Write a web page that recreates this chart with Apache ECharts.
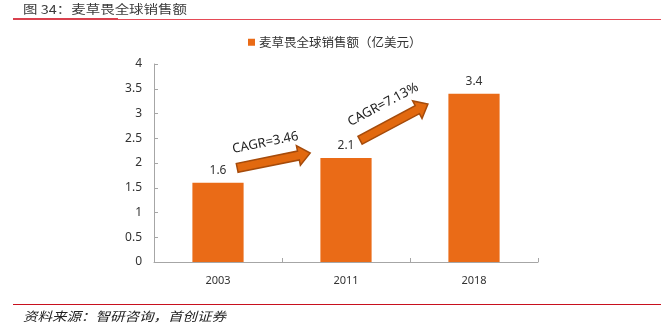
<!DOCTYPE html>
<html><head><meta charset="utf-8">
<script src="https://cdn.jsdelivr.net/npm/echarts@6/dist/echarts.min.js"></script>
<style>html,body{margin:0;padding:0;background:#fff}#c{width:661px;height:327px}</style>
</head><body><div id="c"></div>
<script>
const categories = ['2003', '2011', '2018'];
const salesValues = [1.6, 2.1, 3.4];
const seriesName = '麦草畏全球销售额（亿美元）';
const yTicks = ['0', '0.5', '1', '1.5', '2', '2.5', '3', '3.5', '4'];
const cagrLabels = ['CAGR=3.46', 'CAGR=7.13%'];
const titleText = '图 34：麦草畏全球销售额';
const sourceText = '资料来源：智研咨询，首创证券';

const chart = echarts.init(document.getElementById('c'), null, {renderer: 'canvas'});
const FONT = '"Noto Sans", "Noto Sans CJK SC", sans-serif';
const CJK = '"Noto Sans CJK SC", sans-serif';
const option = {
  animation: false,
  backgroundColor: '#fff',
  grid: {left: 154, right: 123, top: 64, bottom: 65, containLabel: false},
  legend: {
    left: 243, top: 31, itemWidth: 7, itemHeight: 7, icon: 'rect', itemGap: 5,
    textStyle: {fontSize: 12.5, color: '#333', fontFamily: CJK, padding: [0,0,0,-1]},
    data: [seriesName]
  },
  xAxis: {
    type: 'category', data: categories,
    axisLine: {lineStyle: {color: '#a6a6a6', width: 1}},
    axisTick: {show: true, inside: true, length: 4, lineStyle: {color: '#a6a6a6'}},
    axisLabel: {fontSize: 11, color: '#333', margin: 13, fontFamily: FONT}
  },
  yAxis: {
    type: 'value', min: 0, max: 4, interval: 0.5,
    axisLine: {show: true, lineStyle: {color: '#a6a6a6', width: 1}},
    axisTick: {show: true, inside: true, length: 4, lineStyle: {color: '#a6a6a6'}},
    splitLine: {show: false},
    axisLabel: {fontSize: 12, color: '#333', margin: 12, fontFamily: FONT,
      formatter: v => yTicks[Math.round(v / 0.5)]}
  },
  series: [{
    name: seriesName, type: 'bar', data: salesValues, barWidth: '40%',
    itemStyle: {color: '#EA6B17'},
    label: {show: true, position: 'top', distance: 6, fontSize: 12, color: '#333', fontFamily: FONT}
  }]
};
chart.setOption(option);

function px(catF, val) {
  const x0 = chart.convertToPixel({xAxisIndex: 0}, categories[0]);
  const x1 = chart.convertToPixel({xAxisIndex: 0}, categories[1]);
  const y = chart.convertToPixel({yAxisIndex: 0}, val);
  return [x0 + catF * (x1 - x0), y];
}
function arrowPts(T, P, w, h, L) {
  const dx = P[0]-T[0], dy = P[1]-T[1], d = Math.hypot(dx, dy);
  const ux = dx/d, uy = dy/d, nx = -uy, ny = ux;
  const B = [P[0]-ux*L, P[1]-uy*L];
  return [
    [T[0]+nx*w, T[1]+ny*w], [B[0]+nx*w, B[1]+ny*w], [B[0]+nx*h, B[1]+ny*h], P,
    [B[0]-nx*h, B[1]-ny*h], [B[0]-nx*w, B[1]-ny*w], [T[0]-nx*w, T[1]-ny*w]
  ];
}
const mctx = document.createElement('canvas').getContext('2d');
function textW(str, size, style) {
  mctx.font = (style || '') + ' ' + size + 'px ' + CJK;
  return mctx.measureText(str).width;
}
const titleSize = 12, sourceSize = 12.5;
const titleScale = (187 - 23) / textW(titleText, titleSize);
const sourceScale = (226 - 23) / textW(sourceText, sourceSize, 'italic');

const a1T = px(0.15, 1.9), a1P = px(0.72, 2.2);
const a2T = px(1.11, 2.46), a2P = px(1.64, 3.19);
const ang1 = Math.atan2(-(a1P[1]-a1T[1]), a1P[0]-a1T[0]);
const ang2 = Math.atan2(-(a2P[1]-a2T[1]), a2P[0]-a2T[0]);
const t1 = px(0.37, 2.41), t2 = px(1.29, 3.18);

chart.setOption({
  graphic: [
    {type: 'text', x: 23, y: 9, scaleX: titleScale, style: {text: titleText, fontSize: titleSize, fill: '#3a3a3a', verticalAlign: 'middle', fontFamily: CJK}},
    {type: 'rect', shape: {x: 13, y: 19, width: 648, height: 1}, style: {fill: '#E54A56'}},
    {type: 'rect', shape: {x: 13, y: 18, width: 105, height: 2}, style: {fill: '#D9414E'}},
    {type: 'rect', shape: {x: 13, y: 304, width: 648, height: 1}, style: {fill: '#C8101E'}},
    {type: 'text', x: 23, y: 316, scaleX: sourceScale, style: {text: sourceText, fontSize: sourceSize, fill: '#222', fontStyle: 'italic', verticalAlign: 'middle', fontFamily: CJK}},
    {type: 'polygon', shape: {points: arrowPts(a1T, a1P, 4.5, 10, 12)}, style: {fill: '#E2690F', stroke: '#A54B0B', lineWidth: 1.5}},
    {type: 'polygon', shape: {points: arrowPts(a2T, a2P, 4.5, 10, 12)}, style: {fill: '#E2690F', stroke: '#A54B0B', lineWidth: 1.5}},
    {type: 'text', x: t1[0], y: t1[1], rotation: ang1, style: {text: cagrLabels[0], fontSize: 13, fill: '#222', align: 'center', verticalAlign: 'middle', fontFamily: FONT}},
    {type: 'text', x: t2[0], y: t2[1], rotation: ang2, style: {text: cagrLabels[1], fontSize: 13, fill: '#222', align: 'center', verticalAlign: 'middle', fontFamily: FONT}}
  ]
});
</script></body></html>
